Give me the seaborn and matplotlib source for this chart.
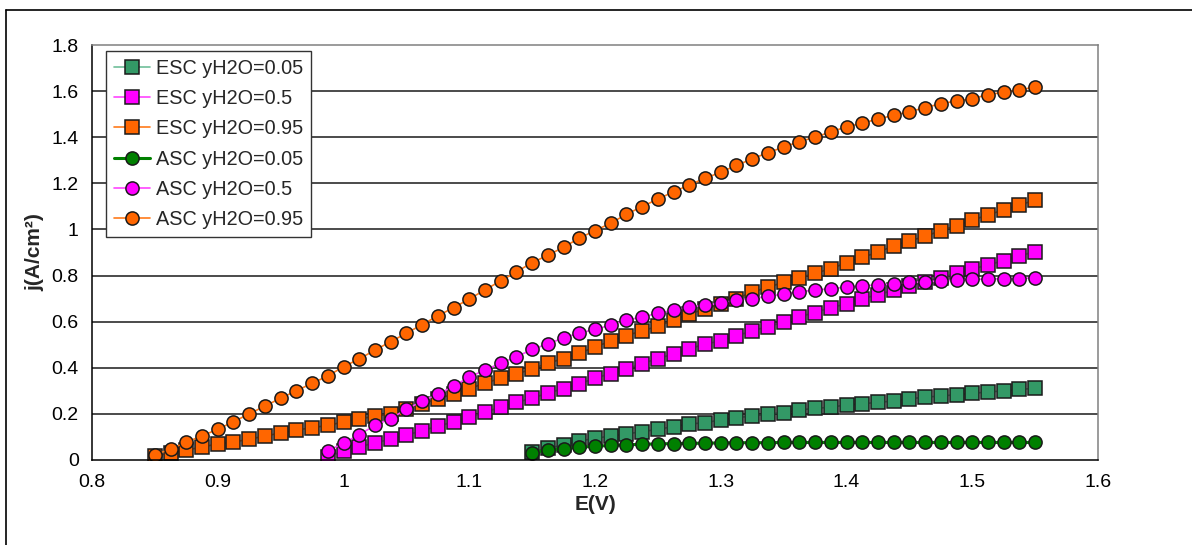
import matplotlib
matplotlib.use("Agg")
import matplotlib.pyplot as plt
from matplotlib.lines import Line2D
from matplotlib.ticker import FuncFormatter
import seaborn as sns

# potential sweep (V), step 12.5 mV
E = [0.85, 0.8625, 0.875, 0.8875, 0.9, 0.9125, 0.925, 0.9375, 0.95, 0.9625, 0.975, 0.9875,
     1.0, 1.0125, 1.025, 1.0375, 1.05, 1.0625, 1.075, 1.0875, 1.1, 1.1125, 1.125, 1.1375,
     1.15, 1.1625, 1.175, 1.1875, 1.2, 1.2125, 1.225, 1.2375, 1.25, 1.2625, 1.275, 1.2875,
     1.3, 1.3125, 1.325, 1.3375, 1.35, 1.3625, 1.375, 1.3875, 1.4, 1.4125, 1.425, 1.4375,
     1.45, 1.4625, 1.475, 1.4875, 1.5, 1.5125, 1.525, 1.5375, 1.55]
E_05 = E[11:]   # yH2O=0.5 curves start at 0.9875 V
E_005 = E[24:]  # yH2O=0.05 curves start at 1.15 V

esc_005 = [0.035, 0.051, 0.065, 0.082, 0.094, 0.104, 0.113, 0.123, 0.133, 0.145,
           0.156, 0.162, 0.174, 0.184, 0.19, 0.199, 0.206, 0.217, 0.224, 0.229,
           0.239, 0.244, 0.25, 0.256, 0.266, 0.272, 0.278, 0.283, 0.289, 0.295,
           0.30, 0.306, 0.311]
esc_05 = [0.013, 0.04, 0.057, 0.075, 0.09, 0.108, 0.127, 0.147, 0.165, 0.187,
          0.207, 0.23, 0.25, 0.268, 0.29, 0.31, 0.33, 0.355, 0.375, 0.395,
          0.418, 0.44, 0.46, 0.482, 0.503, 0.516, 0.538, 0.561, 0.578, 0.599,
          0.622, 0.639, 0.661, 0.677, 0.70, 0.716, 0.738, 0.755, 0.772, 0.79,
          0.81, 0.828, 0.846, 0.865, 0.885, 0.904]
esc_095 = [0.017, 0.03, 0.043, 0.056, 0.07, 0.078, 0.09, 0.104, 0.117, 0.13, 0.14, 0.15,
           0.165, 0.178, 0.19, 0.20, 0.22, 0.245, 0.265, 0.287, 0.31, 0.333,
           0.355, 0.373, 0.395, 0.42, 0.44, 0.463, 0.49, 0.516, 0.54, 0.56,
           0.58, 0.607, 0.633, 0.655, 0.677, 0.70, 0.728, 0.75, 0.77, 0.79,
           0.81, 0.83, 0.855, 0.88, 0.90, 0.93, 0.95, 0.97, 0.995, 1.017,
           1.04, 1.063, 1.085, 1.106, 1.127]
asc_005 = [0.032, 0.043, 0.049, 0.055, 0.06, 0.063, 0.066, 0.068, 0.07, 0.071,
           0.072, 0.073, 0.074, 0.075, 0.075, 0.075, 0.076, 0.076, 0.076, 0.076,
           0.076, 0.076, 0.076, 0.076, 0.076, 0.076, 0.076, 0.076, 0.076, 0.076,
           0.076, 0.076, 0.076]
asc_05 = [0.04, 0.073, 0.11, 0.15, 0.18, 0.22, 0.255, 0.285, 0.32, 0.36,
          0.39, 0.42, 0.447, 0.48, 0.503, 0.53, 0.55, 0.567, 0.585, 0.607,
          0.62, 0.637, 0.65, 0.663, 0.672, 0.68, 0.694, 0.70, 0.71, 0.72,
          0.73, 0.737, 0.743, 0.75, 0.755, 0.76, 0.763, 0.77, 0.773, 0.777,
          0.78, 0.783, 0.785, 0.786, 0.787, 0.79]
asc_095 = [0.022, 0.048, 0.077, 0.105, 0.133, 0.166, 0.20, 0.234, 0.268, 0.30,
           0.333, 0.364, 0.405, 0.438, 0.477, 0.513, 0.55, 0.587, 0.625, 0.661,
           0.698, 0.738, 0.777, 0.816, 0.856, 0.888, 0.923, 0.962, 0.995, 1.027,
           1.066, 1.099, 1.132, 1.163, 1.193, 1.222, 1.248, 1.278, 1.306, 1.333,
           1.357, 1.381, 1.40, 1.423, 1.445, 1.461, 1.479, 1.495, 1.511, 1.528,
           1.546, 1.557, 1.567, 1.585, 1.595, 1.605, 1.618]

labels = ["ESC yH2O=0.05", "ESC yH2O=0.5", "ESC yH2O=0.95",
          "ASC yH2O=0.05", "ASC yH2O=0.5", "ASC yH2O=0.95"]

# (x, y, marker, face colour, line colour, line width)
series = [
    (E_005, esc_005, "s", "#339966", "#6fbf99", 1.2),
    (E_05, esc_05, "s", "#ff00ff", "#ff44ff", 1.2),
    (E, esc_095, "s", "#ff6600", "#ff7a1a", 1.2),
    (E_005, asc_005, "o", "#008000", "#008000", 2.2),
    (E_05, asc_05, "o", "#ff00ff", "#ff44ff", 1.2),
    (E, asc_095, "o", "#ff6600", "#ff7a1a", 1.2),
]

sns.set_style("white")
plt.rcParams["font.family"] = ["Liberation Sans", "DejaVu Sans"]

fig = plt.figure(figsize=(11.92, 5.45), dpi=100)
ax = fig.add_axes([92 / 1192, 1 - 460 / 545, 1006 / 1192, 415 / 545])

# grid lines behind the data
for yv in [0.2, 0.4, 0.6, 0.8, 1.0, 1.2, 1.4, 1.6]:
    ax.axhline(yv, color="#1a1a1a", linewidth=1.1, zorder=0)

for (x, y, mk, fc, lc, lw), lab in zip(series, labels):
    sns.lineplot(x=x, y=y, ax=ax, color=lc, linewidth=lw, marker=mk,
                 markersize=9.5, markerfacecolor=fc, markeredgecolor="#1a1a1a",
                 markeredgewidth=1.1, label=lab, legend=False)

ax.set_xlim(0.8, 1.6)
ax.set_ylim(0, 1.8)
ax.set_xticks([0.8, 0.9, 1.0, 1.1, 1.2, 1.3, 1.4, 1.5, 1.6])
ax.set_yticks([0, 0.2, 0.4, 0.6, 0.8, 1.0, 1.2, 1.4, 1.6, 1.8])
fmt = FuncFormatter(lambda v, p: "{:g}".format(round(v, 2)))
ax.xaxis.set_major_formatter(fmt)
ax.yaxis.set_major_formatter(fmt)
ax.tick_params(axis="y", direction="inout", length=11, width=1, colors="black",
               labelsize=14, pad=4)
ax.tick_params(axis="x", direction="out", length=6, width=1, colors="black",
               labelsize=14, pad=4)

for s in ["left", "bottom"]:
    ax.spines[s].set_color("black")
    ax.spines[s].set_linewidth(1.1)
for s in ["top", "right"]:
    ax.spines[s].set_color("#808080")
    ax.spines[s].set_linewidth(1.1)

ax.set_xlabel("E(V)", fontsize=15, fontweight="bold", labelpad=3)
ax.set_ylabel("j(A/cm²)", fontsize=15, fontweight="bold", labelpad=5)

# legend built from the plotted lines
handles = ax.get_lines()[8:]
leg = ax.legend(handles, labels, loc="upper left", bbox_to_anchor=(14 / 1006, 1 - 6 / 415),
                borderaxespad=0, fancybox=False, framealpha=1, edgecolor="#333333",
                fontsize=14.3, handlelength=1.85, handletextpad=0.28, labelspacing=0.57,
                borderpad=0.38)
leg.get_frame().set_linewidth(1.0)

# outer chart border (Excel style)
fig.add_artist(Line2D([6 / 1192, 6 / 1192], [0, 1 - 10 / 545], color="black",
                      linewidth=1.2, transform=fig.transFigure))
fig.add_artist(Line2D([6 / 1192, 1], [1 - 10 / 545, 1 - 10 / 545], color="black",
                      linewidth=1.2, transform=fig.transFigure))

fig.savefig("out.png", dpi=100)
